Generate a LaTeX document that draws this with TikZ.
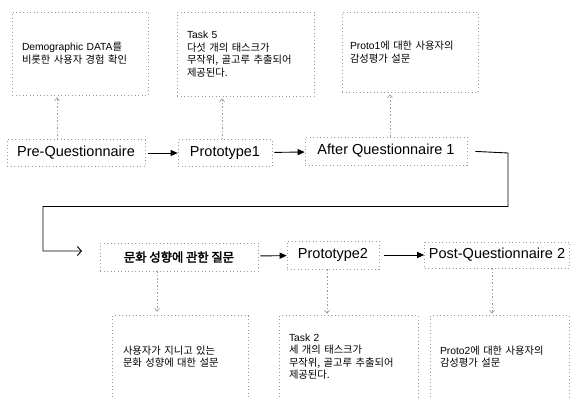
\documentclass[tikz,border=0pt]{standalone}
\usepackage{fontspec}
\setmainfont{Liberation Sans}
\newfontfamily\kr{Noto Sans CJK KR}
\newfontfamily\krb[FakeBold=2.5]{Noto Sans CJK KR}
\usetikzlibrary{arrows.meta}
\tikzset{
  dotbox/.style={draw=gray!80, line width=0.6pt, dash pattern=on 1pt off 2.5pt, inner sep=0pt},
  notebox/.style={dotbox, align=left, inner xsep=10pt, font=\fontsize{10.3}{12.5}\selectfont},
  flownode/.style={dotbox, font=\fontsize{14.5}{16}\selectfont},
  flowarrow/.style={-{Triangle[length=7pt,width=6pt]}, line width=0.9pt},
  deparrow/.style={-{Straight Barb[length=3pt,width=5pt]}, draw=gray!80, line width=0.6pt, dash pattern=on 1.5pt off 2pt},
  mainline/.style={line width=0.9pt},
}
\begin{document}
\begin{tikzpicture}[x=1pt,y=-1pt]
\useasboundingbox (0,0) rectangle (573,397);

% top note boxes
\node[notebox, minimum width=136pt, minimum height=83pt, text width=116pt] (t1) at (80,53.5)
  {Demographic DATA{\kr 를}\\{\kr 비롯한 사용자 경험 확인}};
\node[notebox, minimum width=137pt, minimum height=84pt, text width=117pt, inner xsep=8pt] (t2) at (245.5,54)
  {Task 5\\{\kr 다섯 개의 태스크가}\\{\kr 무작위, 골고루 추출되어}\\{\kr 제공된다.}};
\node[notebox, minimum width=136pt, minimum height=80pt, text width=120pt, inner xsep=8pt] (t3) at (410,52)
  {Proto1{\kr 에 대한 사용자의}\\{\kr 감성평가 설문}};

% row 1
\node[flownode, minimum width=138pt, minimum height=27pt] (pre) at (76,153) {Pre-Questionnaire};
\node[flownode, minimum width=94pt, minimum height=27pt] (p1) at (225,153) {Prototype1};
\node[flownode, minimum width=162pt, minimum height=28pt] (aq1) at (386,151) {After Questionnaire 1};

% row 2
\node[flownode, minimum width=158pt, minimum height=28pt, font=\fontsize{12.3}{15}\krb] (mq) at (179,257) {문화 성향에 관한 질문};
\node[flownode, minimum width=92pt, minimum height=28pt] (p2) at (333,255) {Prototype2};
\node[flownode, minimum width=145pt, minimum height=26pt] (pq2) at (497,255) {Post-Questionnaire 2};

% bottom note boxes (open at the bottom)
\node[notebox, draw=none, minimum width=135pt, minimum height=81pt, text width=115pt, inner xsep=9pt] (b1) at (180.5,356.5)
  {{\kr 사용자가 지니고 있는}\\{\kr 문화 성향에 대한 설문}};
\node[notebox, draw=none, minimum width=138pt, minimum height=81pt, text width=120pt, inner xsep=9pt] (b2) at (349,356.5)
  {Task 2\\{\kr 세 개의 태스크가}\\{\kr 무작위, 골고루 추출되어}\\{\kr 제공된다.}};
\node[notebox, draw=none, minimum width=136pt, minimum height=81pt, text width=120pt, inner xsep=9pt] (b3) at (500,356.5)
  {Proto2{\kr 에 대한 사용자의}\\{\kr 감성평가 설문}};
\foreach \b in {b1,b2,b3}
  \draw[dotbox] (\b.south west) -- (\b.north west) -- (\b.north east) -- (\b.south east);

% flow arrows
\draw[flowarrow, shorten <=3pt] (pre) -- (p1);
\draw[flowarrow, shorten <=2pt] (p1) -- (aq1);
\draw[flowarrow, shorten <=2pt] (mq) -- (p2);
\draw[flowarrow, shorten <=5pt] (p2) -- (pq2);

% wrap-around connector
\coordinate (inarr) at (82,251);
\draw[mainline, -{Straight Barb[length=4pt,width=9pt]}, shorten <=8pt]
  (aq1.east) -- (508,153) -- (508,206.5) -- (43,206.5) -- (43,251) -- (inarr);

% dependencies to note boxes
\coordinate (x1) at (57,0);
\coordinate (x2) at (222,0);
\coordinate (x3) at (390,0);
\coordinate (x4) at (157,0);
\coordinate (x5) at (327,0);
\coordinate (x6) at (492,0);
\draw[deparrow, shorten >=2pt] (pre.north -| x1) -- (t1.south -| x1);
\draw[deparrow, shorten >=2pt] (p1.north -| x2) -- (t2.south -| x2);
\draw[deparrow, shorten >=2pt] (aq1.north -| x3) -- (t3.south -| x3);
\draw[deparrow, shorten >=4pt] (mq.south -| x4) -- (b1.north -| x4);
\draw[deparrow, shorten >=2pt] (p2.south -| x5) -- (b2.north -| x5);
\draw[deparrow, shorten >=2pt] (pq2.south -| x6) -- (b3.north -| x6);
\end{tikzpicture}
\end{document}
